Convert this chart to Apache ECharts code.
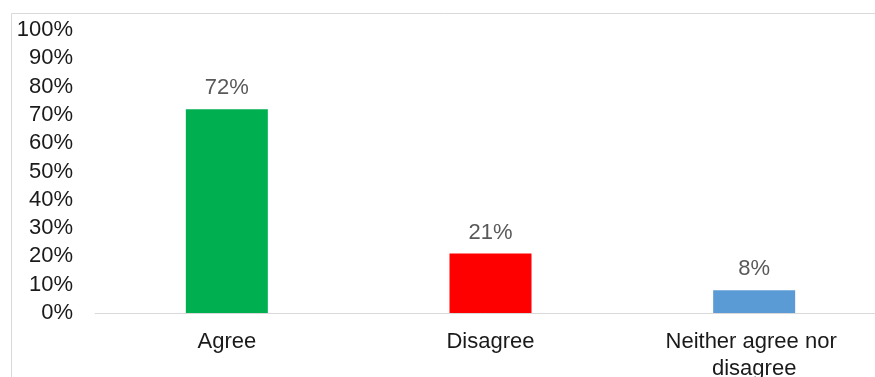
<!DOCTYPE html>
<html>
<head>
<meta charset="utf-8">
<script src="https://cdn.jsdelivr.net/npm/echarts@6/dist/echarts.min.js"></script>
<style>
  html, body { margin: 0; padding: 0; background: #fff; }
  #chart { width: 875px; height: 377px; }
</style>
</head>
<body>
<div id="chart"></div>
<script>
// Survey response shares
const categories = ['Agree', 'Disagree', 'Neither agree nor disagree'];
const values = [72, 21, 8];
const barColors = ['#00B050', '#FF0000', '#5B9BD5'];

const chart = echarts.init(document.getElementById('chart'), null, { renderer: 'canvas' });

chart.setOption({
  animation: false,
  textStyle: { fontFamily: 'Liberation Sans, Arial, sans-serif' },
  graphic: [{
    type: 'rect',
    shape: { x: 11.5, y: 13.5, width: 1000, height: 500 },
    style: { fill: 'none', stroke: '#d9d9d9', lineWidth: 1 },
    silent: true,
    z: -1
  }],
  grid: {
    left: 95, right: -11, top: 30, bottom: 64,
    containLabel: false,
    outerBoundsMode: 'none'
  },
  xAxis: {
    type: 'category',
    data: categories,
    axisLine: { show: true, lineStyle: { color: '#d9d9d9', width: 1 } },
    axisTick: { show: false },
    axisLabel: {
      interval: 0,
      color: '#1a1a1a',
      fontSize: 22,
      margin: 15,
      lineHeight: 27,
      width: 220,
      overflow: 'break'
    }
  },
  yAxis: {
    type: 'value',
    min: 0,
    max: 100,
    interval: 10,
    axisLine: { show: false },
    axisTick: { show: false },
    splitLine: { show: false },
    axisLabel: {
      color: '#1a1a1a',
      fontSize: 22,
      margin: 22,
      formatter: '{value}%'
    }
  },
  series: [{
    type: 'bar',
    barWidth: 82,
    data: values.map((v, i) => ({ value: v, itemStyle: { color: barColors[i] } })),
    label: {
      show: true,
      position: 'top',
      distance: 10,
      color: '#595959',
      fontSize: 22,
      formatter: '{c}%'
    }
  }]
});
</script>
</body>
</html>
